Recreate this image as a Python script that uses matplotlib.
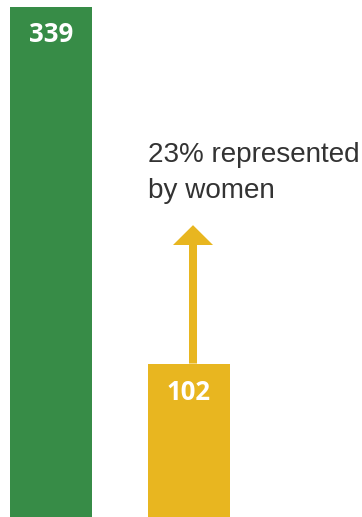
import matplotlib
matplotlib.use("Agg")
import matplotlib.pyplot as plt
from matplotlib.patches import FancyArrow

categories = ["Total", "Women"]
values = [339, 102]
colors = ["#378c47", "#e8b620"]
annotation = "23% represented\nby women"
arrow_tip_value = 194

fig = plt.figure(figsize=(3.62, 5.17), dpi=100)
ax = fig.add_axes([0, 0, 1, 1])
ax.set_axis_off()

xs = list(range(len(categories)))
ax.bar(xs, values, width=0.594, color=colors)
ax.set_xlim(-0.3696, 2.2536)
ax.set_ylim(0, 339 * 517 / 510)

label_offsets = [339 - (517 - 35) / 510 * 339, 102 - (517 - 393) / 510 * 339]
for x, v, off in zip(xs, values, label_offsets):
    ax.text(x, v - off, str(v), ha="center", va="center", color="white",
            fontsize=18.5, fontweight="bold", family="Open Sans")

# arrow
ax_x = 1.029
head_len = 194 - 180.8
ax.add_patch(FancyArrow(ax_x, values[1], 0, arrow_tip_value - values[1],
                        width=0.058, head_width=0.29, head_length=head_len,
                        length_includes_head=True, color=colors[1], lw=0))

ax.text(-0.3696 + 148 / 138, (517 - 142) / 510 * 339, annotation, ha="left", va="top",
        fontsize=20.1, color="#333333", family="Liberation Sans", linespacing=1.5)

fig.savefig("out.png", dpi=100)
